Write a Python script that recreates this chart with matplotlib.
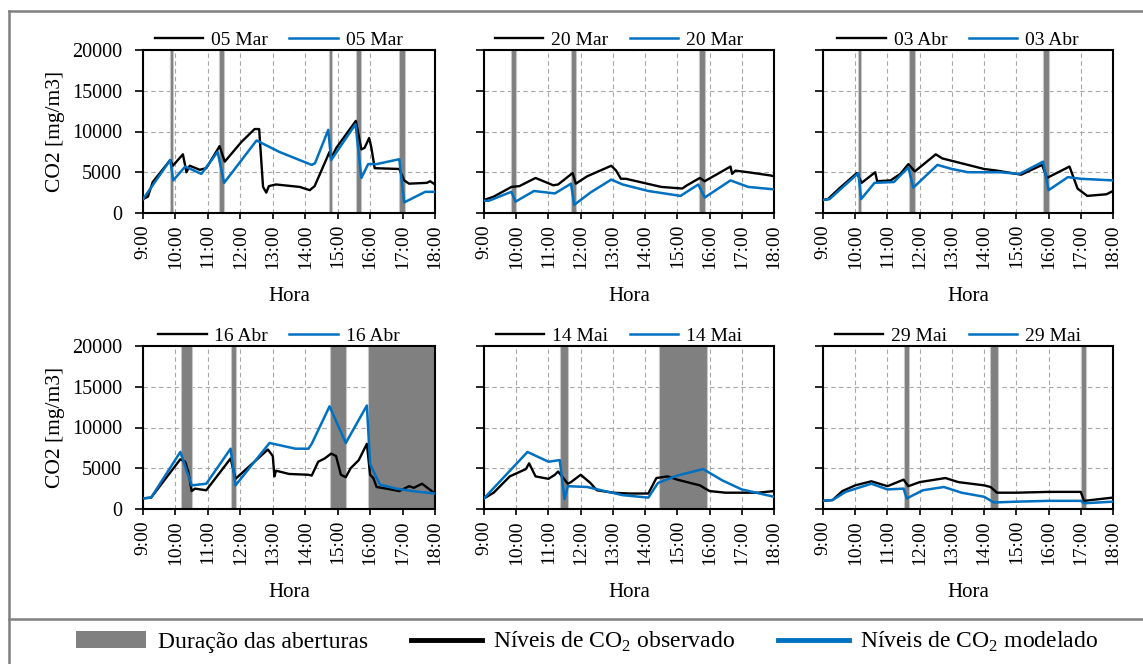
import matplotlib
matplotlib.use('Agg')
import matplotlib.pyplot as plt
from matplotlib.lines import Line2D
from matplotlib.patches import Patch

plt.rcParams['font.family'] = ['Liberation Serif', 'DejaVu Serif']
plt.rcParams['mathtext.fontset'] = 'custom'
plt.rcParams['mathtext.rm'] = 'Liberation Serif'

# horas do dia (9:00 a 18:00)
hour_ticks = list(range(9, 19))
hour_labels = [f'{h}:00' for h in hour_ticks]
co2_ticks = [0, 5000, 10000, 15000, 20000]

days = ['05 Mar', '20 Mar', '03 Abr', '16 Abr', '14 Mai', '29 Mai']

# 05 Mar
mar05_obs_t = [9.0, 9.15, 9.3, 9.84, 9.92, 10.23, 10.34, 10.44, 10.75, 10.95, 11.36, 11.52, 12.03, 12.44,
               12.58, 12.7, 12.8, 12.88, 13.1, 13.83, 14.14, 14.29, 14.75, 14.8, 14.96, 15.56, 15.73, 15.83,
               15.97, 16.04, 16.14, 16.9, 17.05, 17.2, 17.75, 17.85, 18.0]
mar05_obs = [1700, 2000, 3800, 6500, 5800, 7200, 5000, 5800, 5300, 5500, 8200, 6300, 8700, 10300,
             10300, 3200, 2500, 3300, 3500, 3200, 2800, 3300, 7500, 6700, 8000, 11300, 7800, 8000,
             9200, 8000, 5500, 5400, 4000, 3600, 3700, 3900, 3500]
mar05_mod_t = [9.0, 9.84, 9.93, 10.3, 10.8, 11.3, 11.5, 12.5, 13.2, 14.2, 14.3, 14.71, 14.8, 15.55,
               15.73, 15.94, 16.2, 16.9, 17.05, 17.7, 18.0]
mar05_mod = [1700, 6500, 4000, 5700, 4800, 7500, 3700, 8900, 7500, 5900, 6100, 10200, 6500, 10900,
             4300, 6000, 6000, 6600, 1300, 2600, 2600]
mar05_open = [(9.84, 9.93), (11.34, 11.51), (14.73, 14.82), (15.56, 15.73), (16.9, 17.07)]

# 20 Mar
mar20_obs_t = [9.0, 9.3, 9.85, 10.1, 10.6, 11.15, 11.3, 11.75, 11.85, 12.2, 12.95, 13.1, 13.25, 13.4,
               14.5, 15.15, 15.3, 15.7, 15.85, 16.65, 16.7, 16.8, 17.2, 17.9, 18.0]
mar20_obs = [1600, 2000, 3200, 3300, 4300, 3400, 3500, 4900, 3600, 4500, 5800, 5200, 4200, 4200,
             3200, 3000, 3400, 4300, 3900, 5700, 4800, 5200, 5000, 4600, 4500]
mar20_mod_t = [9.0, 9.15, 9.85, 9.98, 10.55, 11.2, 11.7, 11.8, 12.3, 12.95, 13.3, 14.1, 15.1, 15.65,
               15.85, 16.65, 17.2, 18.0]
mar20_mod = [1500, 1500, 2600, 1400, 2700, 2400, 3600, 1000, 2500, 4100, 3500, 2700, 2100, 3500,
             1900, 4000, 3200, 2900]
mar20_open = [(9.83, 9.99), (11.69, 11.86), (15.68, 15.86)]

# 03 Abr
abr03_obs_t = [9.0, 9.15, 9.5, 10.05, 10.2, 10.62, 10.68, 11.1, 11.4, 11.65, 11.85, 12.5, 12.7, 13.4,
               14.0, 14.4, 15.15, 15.8, 15.95, 16.65, 16.9, 17.2, 17.8, 18.0]
abr03_obs = [1600, 1700, 3000, 4900, 3700, 5000, 3900, 4000, 4800, 6000, 5100, 7200, 6700, 6000,
             5400, 5200, 4700, 5900, 4300, 5700, 3000, 2100, 2300, 2700]
abr03_mod_t = [9.0, 9.2, 10.1, 10.18, 10.6, 11.2, 11.65, 11.8, 12.55, 13.0, 13.5, 14.5, 15.1, 15.83,
               16.0, 16.6, 17.0, 18.0]
abr03_mod = [1600, 1700, 4900, 1700, 3700, 3800, 5600, 3100, 5900, 5400, 5000, 5000, 4800, 6300,
             2800, 4400, 4200, 4000]
abr03_open = [(10.10, 10.19), (11.68, 11.84), (15.84, 16.01)]

# 16 Abr
abr16_obs_t = [9.0, 9.25, 10.15, 10.3, 10.4, 10.5, 10.6, 10.95, 11.7, 11.85, 12.85, 13.0, 13.05, 13.1,
               13.5, 14.1, 14.2, 14.4, 14.6, 14.8, 14.95, 15.1, 15.25, 15.4, 15.65, 15.9, 16.0, 16.1,
               16.2, 16.5, 16.9, 17.2, 17.35, 17.6, 17.8, 18.0]
abr16_obs = [1300, 1400, 6100, 5800, 4500, 2200, 2500, 2300, 6200, 3700, 7300, 6500, 4000, 4700,
             4300, 4200, 4100, 5800, 6200, 6800, 6500, 4200, 3900, 5000, 6000, 8000, 4200, 3800,
             2700, 2500, 2200, 2800, 2600, 3100, 2500, 1900]
abr16_mod_t = [9.0, 9.25, 10.15, 10.5, 10.95, 11.7, 11.85, 12.9, 13.7, 14.1, 14.2, 14.75, 14.95, 15.25,
               15.9, 16.0, 16.3, 16.8, 17.3, 18.0]
abr16_mod = [1300, 1400, 7000, 2900, 3100, 7400, 2900, 8100, 7400, 7400, 8000, 12600, 10800, 8100,
             12700, 5500, 3000, 2500, 2200, 1900]
abr16_open = [(10.16, 10.52), (11.70, 11.88), (14.75, 15.25), (15.93, 18.0)]

# 14 Mai
mai14_obs_t = [9.0, 9.3, 9.8, 10.3, 10.4, 10.6, 11.0, 11.2, 11.3, 11.6, 11.7, 12.0, 12.3, 12.5, 13.0,
               13.5, 14.1, 14.35, 14.7, 15.0, 15.4, 15.7, 16.0, 16.5, 17.5, 18.0]
mai14_obs = [1300, 2000, 4000, 4900, 5600, 4000, 3700, 4200, 4600, 3100, 3300, 4200, 3200, 2300, 2000,
             1900, 1900, 3800, 4000, 3600, 3200, 2900, 2200, 2000, 2000, 2200]
mai14_mod_t = [9.0, 10.35, 11.0, 11.35, 11.5, 11.6, 12.2, 13.3, 14.1, 14.4, 15.0, 15.8, 16.4, 17.0, 18.0]
mai14_mod = [1300, 7000, 5800, 6000, 1200, 2800, 2700, 1700, 1400, 3200, 4100, 4900, 3500, 2400, 1500]
mai14_open = [(11.36, 11.60), (14.42, 15.91)]

# 29 Mai
mai29_obs_t = [9.0, 9.3, 9.6, 10.0, 10.5, 11.0, 11.5, 11.65, 12.0, 12.8, 13.2, 14.0, 14.2, 14.4, 15.0,
               16.0, 17.0, 17.1, 18.0]
mai29_obs = [1000, 1100, 2200, 2900, 3400, 2800, 3600, 2800, 3300, 3800, 3300, 2900, 2700, 2000, 2000,
             2100, 2100, 1000, 1400]
mai29_mod_t = [9.0, 9.3, 9.7, 10.5, 11.0, 11.5, 11.6, 12.1, 12.75, 13.3, 14.0, 14.3, 15.0, 16.0, 17.0,
               17.1, 18.0]
mai29_mod = [1000, 1100, 2100, 3100, 2400, 2500, 1300, 2300, 2700, 2000, 1500, 800, 900, 1000, 1000,
             700, 900]
mai29_open = [(11.50, 11.67), (14.18, 14.43), (17.0, 17.17)]

obs_t = [mar05_obs_t, mar20_obs_t, abr03_obs_t, abr16_obs_t, mai14_obs_t, mai29_obs_t]
obs = [mar05_obs, mar20_obs, abr03_obs, abr16_obs, mai14_obs, mai29_obs]
mod_t = [mar05_mod_t, mar20_mod_t, abr03_mod_t, abr16_mod_t, mai14_mod_t, mai29_mod_t]
mod = [mar05_mod, mar20_mod, abr03_mod, abr16_mod, mai14_mod, mai29_mod]
openings = [mar05_open, mar20_open, abr03_open, abr16_open, mai14_open, mai29_open]

black = '#000000'
blue = '#0070C0'
band_gray = '#808080'

W, H = 1143, 664
fig = plt.figure(figsize=(W / 100, H / 100), dpi=100)

# posições dos eixos em pixels
col_left = [143, 484, 823]
col_width = [292, 290, 290]
row_top = [50, 346]
ax_h = 163

for i, day in enumerate(days):
    r, c = divmod(i, 3)
    left = col_left[c] / W
    bottom = 1 - (row_top[r] + ax_h) / H
    ax = fig.add_axes([left, bottom, col_width[c] / W, ax_h / H])
    ax.set_axisbelow(True)

    for a, b in openings[i]:
        ax.axvspan(a, b, facecolor=band_gray, edgecolor='#c8c8c8', lw=0.8, zorder=1.5)

    ax.plot(obs_t[i], obs[i], color=black, lw=1.7, label=day, zorder=3)
    ax.plot(mod_t[i], mod[i], color=blue, lw=1.8, label=day, zorder=3)

    ax.set_xlim(9, 18)
    ax.set_ylim(0, 20000)
    ax.set_xticks(hour_ticks)
    ax.set_xticklabels(hour_labels, rotation=90, fontsize=14)
    ax.set_yticks(co2_ticks)
    if c == 0:
        ax.set_yticklabels([str(v) for v in co2_ticks], fontsize=14.5)
        ax.set_ylabel('CO2 [mg/m3]', fontsize=15.5, labelpad=5)
    else:
        ax.set_yticklabels([])
    ax.tick_params(axis='x', direction='out', length=4, width=1.2, pad=4)
    ax.tick_params(axis='y', direction='out', length=6, width=1.2, pad=9)
    ax.set_xlabel('Hora', fontsize=15, labelpad=13)
    ax.grid(True, color='#a6a6a6', ls=(0, (4, 3)), lw=0.8)
    for s in ax.spines.values():
        s.set_linewidth(1.5)

    ax.legend(loc='lower center', bbox_to_anchor=(0.465, 0.995), ncol=2, frameon=False,
              fontsize=14, handlelength=2.5, handletextpad=0.4, columnspacing=1.1,
              borderpad=0.1, borderaxespad=0.0)

# moldura e separador da legenda geral
frame_color = '#808080'
fig.add_artist(Line2D([9 / W, 1], [1 - 11 / H, 1 - 11 / H], color=frame_color, lw=1.8))
fig.add_artist(Line2D([9 / W, 9 / W], [0, 1 - 11 / H], color=frame_color, lw=1.8))
fig.add_artist(Line2D([9 / W, 1], [1 - 619 / H, 1 - 619 / H], color=frame_color, lw=1.8))

handles = [Patch(facecolor=band_gray, edgecolor='none'),
           Line2D([], [], color=black, lw=3.5),
           Line2D([], [], color=blue, lw=3.5)]
labels = ['Duração das aberturas',
          r'Níveis de CO$_\mathrm{2}$ observado',
          r'Níveis de CO$_\mathrm{2}$ modelado']
fig.legend(handles, labels, loc='center', bbox_to_anchor=(587 / W, 1 - 642 / H), ncol=3,
           frameon=False, fontsize=17, handlelength=3.0, handleheight=0.7,
           handletextpad=0.5, columnspacing=1.8)

fig.savefig('out.png', dpi=100)
